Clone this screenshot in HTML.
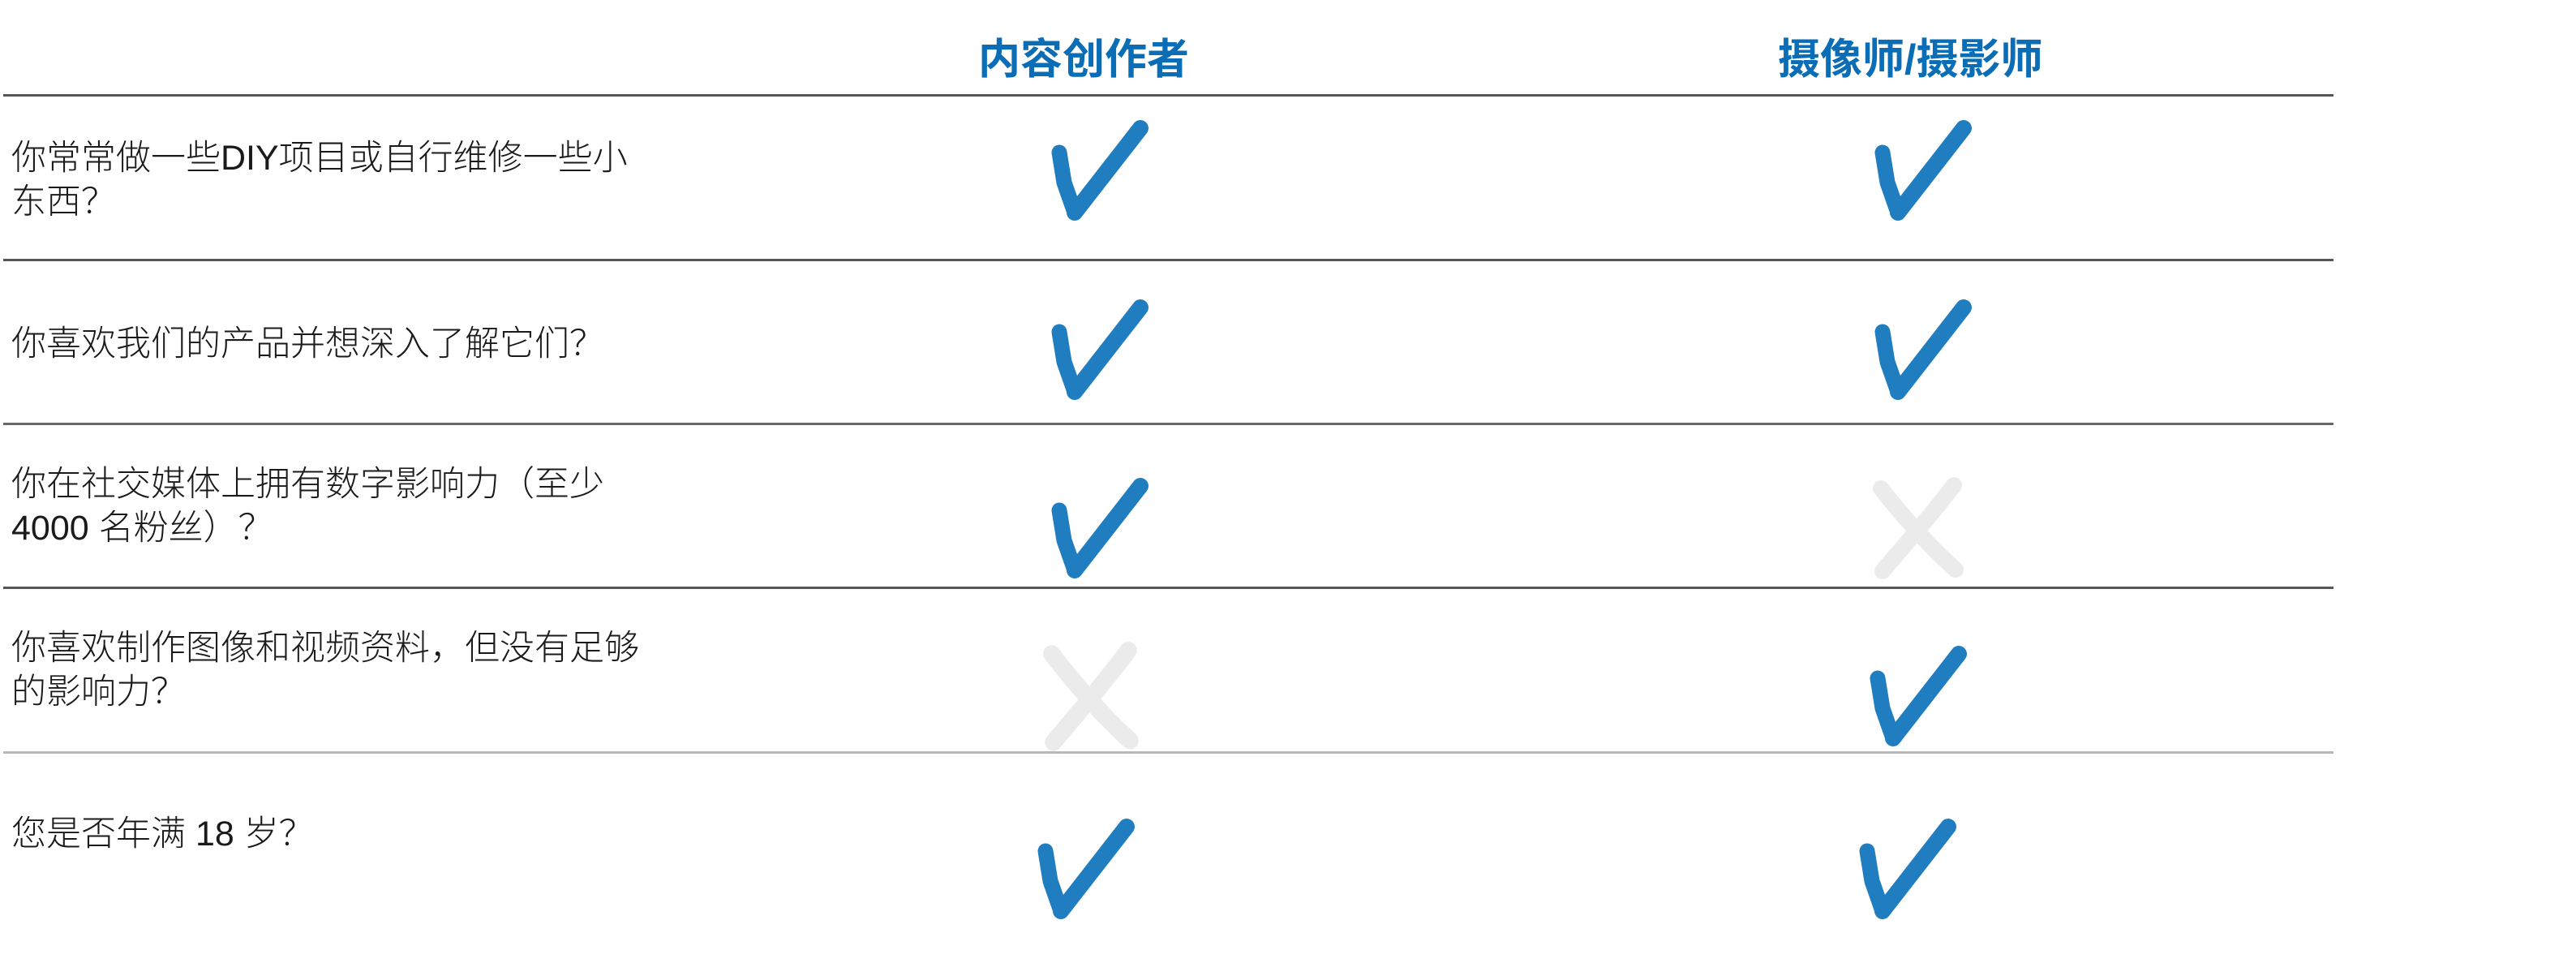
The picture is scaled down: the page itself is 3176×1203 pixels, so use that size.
<!DOCTYPE html>
<html><head><meta charset="utf-8">
<style>
html,body{margin:0;padding:0;background:#fff;}
body{width:3176px;height:1203px;position:relative;overflow:hidden;font-family:"Liberation Sans","Noto Sans CJK SC",sans-serif;}
.h{position:absolute;top:44px;font-size:52px;font-weight:bold;color:#0a6db5;white-space:nowrap;line-height:60px;}
.t{position:absolute;left:14px;font-size:43px;color:#1a1a1a;line-height:54px;white-space:nowrap;font-weight:300;}
.l{position:absolute;left:4px;width:2873px;height:3px;}
svg{position:absolute;overflow:visible}
</style></head><body>
<div class="h" style="left:1206px">内容创作者</div>
<div class="h" style="left:2192px">摄像师/摄影师</div>

<div class="l" style="top:116px;background:#555"></div>
<div class="l" style="top:319px;background:#555"></div>
<div class="l" style="top:521px;background:#666"></div>
<div class="l" style="top:723px;background:#555"></div>
<div class="l" style="top:926px;background:#b8b8b8"></div>

<div class="t" style="top:168px">你常常做一些DIY项目或自行维修一些小<br>东西？</div>
<div class="t" style="top:397px">你喜欢我们的产品并想深入了解它们？</div>
<div class="t" style="top:570px">你在社交媒体上拥有数字影响力（至少<br>4000 名粉丝）？</div>
<div class="t" style="top:772px">你喜欢制作图像和视频资料，但没有足够<br>的影响力？</div>
<div class="t" style="top:1001px">您是否年满 18 岁？</div>

<svg width="0" height="0"><defs>
<g id="ck"><path d="M10 38 L16 75 L29 112" stroke="#1f7dc0" stroke-width="19" fill="none" stroke-linecap="round" stroke-linejoin="round"/><path d="M29 112 L110 8" stroke="#1f7dc0" stroke-width="20" fill="none" stroke-linecap="round" stroke-linejoin="round"/></g>
<g id="xx"><path d="M14 12 C40 45 70 80 106 112" stroke="#ebebeb" stroke-width="20" fill="none" stroke-linecap="round"/><path d="M104 8 C80 40 45 80 16 114" stroke="#ebebeb" stroke-width="20" fill="none" stroke-linecap="round"/></g>
</defs></svg>

<svg style="left:1296px;top:150px" width="118" height="118"><use href="#ck"/></svg>
<svg style="left:2311px;top:150px" width="118" height="118"><use href="#ck"/></svg>
<svg style="left:1296px;top:371px" width="118" height="118"><use href="#ck"/></svg>
<svg style="left:2311px;top:371px" width="118" height="118"><use href="#ck"/></svg>
<svg style="left:1296px;top:591px" width="118" height="118"><use href="#ck"/></svg>
<svg style="left:2305px;top:590px" width="118" height="122"><use href="#xx"/></svg>
<svg style="left:1282px;top:793px" width="124" height="130"><g transform="scale(1.05,1.07)"><use href="#xx"/></g></svg>
<svg style="left:2305px;top:798px" width="118" height="118"><use href="#ck"/></svg>
<svg style="left:1279px;top:1011px" width="118" height="118"><use href="#ck"/></svg>
<svg style="left:2292px;top:1011px" width="118" height="118"><use href="#ck"/></svg>
</body></html>
